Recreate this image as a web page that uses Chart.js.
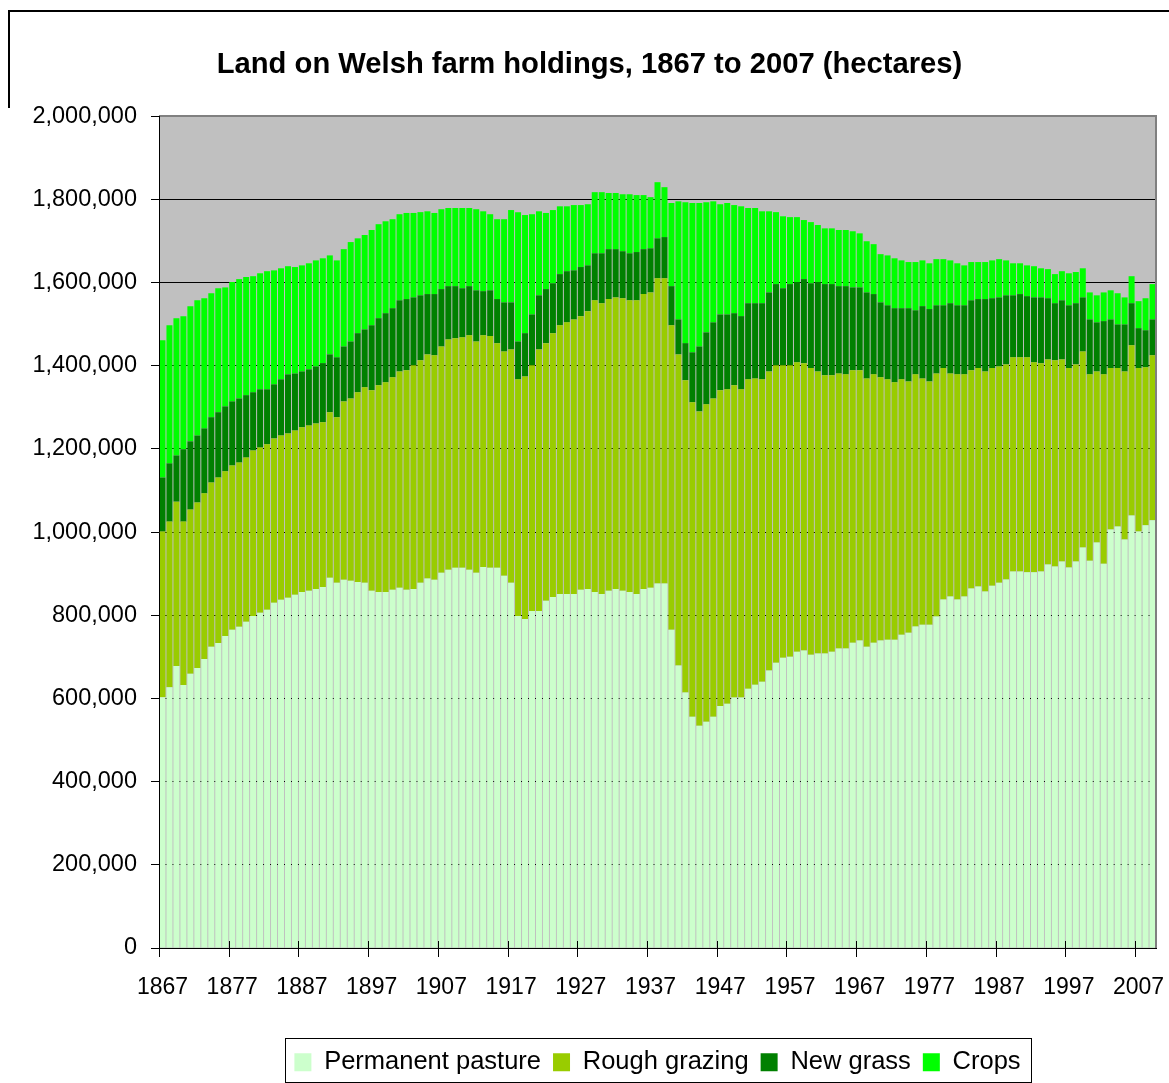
<!DOCTYPE html>
<html>
<head>
<meta charset="utf-8">
<title>Land on Welsh farm holdings, 1867 to 2007</title>
<script src="https://cdn.jsdelivr.net/npm/chart.js"></script>
<style>
  body { margin: 0; background: #fff; }
  #wrap { width: 1169px; height: 1083px; }
</style>
</head>
<body>
<div id="wrap"><canvas id="myChart" width="1169" height="1083"></canvas></div>
<script>
const years = [
    1867, 1868, 1869, 1870, 1871, 1872, 1873, 1874, 1875, 1876,
    1877, 1878, 1879, 1880, 1881, 1882, 1883, 1884, 1885, 1886,
    1887, 1888, 1889, 1890, 1891, 1892, 1893, 1894, 1895, 1896,
    1897, 1898, 1899, 1900, 1901, 1902, 1903, 1904, 1905, 1906,
    1907, 1908, 1909, 1910, 1911, 1912, 1913, 1914, 1915, 1916,
    1917, 1918, 1919, 1920, 1921, 1922, 1923, 1924, 1925, 1926,
    1927, 1928, 1929, 1930, 1931, 1932, 1933, 1934, 1935, 1936,
    1937, 1938, 1939, 1940, 1941, 1942, 1943, 1944, 1945, 1946,
    1947, 1948, 1949, 1950, 1951, 1952, 1953, 1954, 1955, 1956,
    1957, 1958, 1959, 1960, 1961, 1962, 1963, 1964, 1965, 1966,
    1967, 1968, 1969, 1970, 1971, 1972, 1973, 1974, 1975, 1976,
    1977, 1978, 1979, 1980, 1981, 1982, 1983, 1984, 1985, 1986,
    1987, 1988, 1989, 1990, 1991, 1992, 1993, 1994, 1995, 1996,
    1997, 1998, 1999, 2000, 2001, 2002, 2003, 2004, 2005, 2006,
    2007, 2008, 2009
];

// years that get a label and a tick mark
const tickYears = [1867, 1877, 1887, 1897, 1907, 1917, 1927, 1937, 1947, 1957, 1967, 1977, 1987, 1997, 2007];

const yMax = 2000000;
const yStep = 200000;

// hectares
const pasture = [
    603000, 627000, 678000, 632000, 659000, 673000, 695000, 724000, 733000, 750000,
    765000, 772000, 784000, 798000, 806000, 813000, 830000, 837000, 842000, 849000,
    856000, 859000, 863000, 868000, 890000, 878000, 885000, 883000, 880000, 878000,
    859000, 856000, 856000, 861000, 866000, 861000, 863000, 878000, 888000, 885000,
    902000, 909000, 914000, 914000, 909000, 902000, 916000, 914000, 914000, 895000,
    878000, 798000, 791000, 810000, 810000, 835000, 844000, 851000, 851000, 851000,
    861000, 863000, 856000, 851000, 859000, 863000, 859000, 856000, 851000, 863000,
    866000, 876000, 876000, 765000, 679000, 614000, 556000, 534000, 544000, 556000,
    582000, 587000, 602000, 602000, 623000, 633000, 640000, 667000, 686000, 698000,
    700000, 712000, 715000, 705000, 708000, 708000, 712000, 720000, 720000, 734000,
    739000, 724000, 734000, 739000, 741000, 741000, 753000, 758000, 773000, 777000,
    777000, 797000, 838000, 845000, 838000, 845000, 864000, 869000, 857000, 871000,
    878000, 886000, 905000, 905000, 903000, 903000, 905000, 922000, 917000, 929000,
    915000, 929000, 963000, 931000, 975000, 924000, 1006000, 1013000, 982000, 1040000,
    1001000, 1016000, 1028000
];

const rough = [
    398000, 398000, 395000, 393000, 395000, 398000, 398000, 395000, 398000, 396000,
    395000, 395000, 395000, 398000, 397000, 398000, 395000, 395000, 395000, 395000,
    396000, 397000, 398000, 396000, 398000, 398000, 429000, 438000, 456000, 470000,
    482000, 497000, 504000, 511000, 520000, 528000, 538000, 535000, 539000, 540000,
    544000, 554000, 552000, 554000, 564000, 556000, 557000, 557000, 540000, 539000,
    561000, 569000, 583000, 591000, 629000, 619000, 634000, 646000, 653000, 660000,
    658000, 668000, 701000, 699000, 701000, 701000, 703000, 701000, 706000, 709000,
    710000, 734000, 734000, 732000, 748000, 751000, 756000, 756000, 763000, 765000,
    759000, 756000, 751000, 741000, 744000, 736000, 727000, 719000, 715000, 703000,
    701000, 696000, 691000, 689000, 678000, 669000, 665000, 661000, 659000, 655000,
    650000, 645000, 645000, 633000, 626000, 619000, 614000, 604000, 606000, 592000,
    585000, 584000, 556000, 536000, 541000, 534000, 525000, 525000, 529000, 523000,
    520000, 517000, 515000, 515000, 517000, 505000, 501000, 493000, 496000, 486000,
    479000, 474000, 471000, 448000, 411000, 455000, 388000, 381000, 404000, 409000,
    393000, 380000, 397000
];

const newGrass = [
    130000, 140000, 111000, 174000, 164000, 161000, 156000, 157000, 157000, 156000,
    154000, 154000, 150000, 140000, 140000, 132000, 130000, 135000, 142000, 137000,
    134000, 135000, 137000, 142000, 139000, 144000, 132000, 137000, 142000, 139000,
    156000, 161000, 166000, 166000, 171000, 171000, 163000, 156000, 145000, 147000,
    138000, 128000, 125000, 118000, 118000, 123000, 106000, 110000, 106000, 118000,
    113000, 91000, 104000, 122000, 130000, 130000, 120000, 123000, 123000, 118000,
    118000, 110000, 113000, 120000, 120000, 116000, 113000, 113000, 116000, 108000,
    106000, 96000, 99000, 94000, 84000, 89000, 120000, 156000, 173000, 183000,
    182000, 180000, 173000, 176000, 183000, 181000, 183000, 190000, 195000, 185000,
    195000, 193000, 202000, 204000, 215000, 219000, 219000, 210000, 212000, 199000,
    199000, 207000, 193000, 180000, 178000, 178000, 171000, 176000, 154000, 174000,
    174000, 164000, 151000, 169000, 166000, 166000, 168000, 166000, 174000, 168000,
    166000, 166000, 149000, 152000, 147000, 156000, 158000, 147000, 137000, 142000,
    151000, 147000, 130000, 132000, 118000, 128000, 117000, 105000, 113000, 101000,
    96000, 89000, 86000
];

const crops = [
    330000, 332000, 330000, 320000, 325000, 325000, 313000, 298000, 298000, 286000,
    287000, 287000, 284000, 279000, 279000, 284000, 274000, 267000, 260000, 256000,
    255000, 255000, 255000, 252000, 238000, 233000, 234000, 239000, 228000, 227000,
    229000, 226000, 221000, 214000, 207000, 207000, 203000, 200000, 199000, 195000,
    192000, 188000, 188000, 193000, 188000, 195000, 192000, 183000, 192000, 200000,
    222000, 311000, 284000, 241000, 202000, 183000, 176000, 163000, 156000, 157000,
    149000, 147000, 147000, 147000, 135000, 135000, 137000, 142000, 137000, 130000,
    123000, 135000, 120000, 200000, 284000, 339000, 359000, 345000, 313000, 291000,
    265000, 268000, 260000, 264000, 229000, 229000, 221000, 195000, 173000, 173000,
    161000, 156000, 142000, 147000, 137000, 134000, 134000, 135000, 135000, 135000,
    130000, 123000, 120000, 116000, 120000, 120000, 115000, 111000, 116000, 110000,
    110000, 111000, 111000, 103000, 101000, 96000, 92000, 89000, 89000, 91000,
    92000, 84000, 77000, 74000, 74000, 75000, 70000, 70000, 70000, 70000,
    77000, 75000, 70000, 65000, 65000, 69000, 70000, 75000, 65000, 65000,
    65000, 77000, 85000
];

const fontFamily = "'Liberation Sans', Arial, sans-serif";
Chart.defaults.font.family = fontFamily;
Chart.defaults.color = '#000';

// grey plot area, grey top/right frame, decade ticks, legend box, outer frame
const decorations = {
    id: 'decorations',
    beforeDraw(chart) {
        const ctx = chart.ctx;
        const a = chart.chartArea;
        ctx.save();
        ctx.fillStyle = '#C0C0C0';
        ctx.fillRect(a.left, a.top, a.right - a.left, a.bottom - a.top);
        ctx.restore();
    },
    afterDatasetsDraw(chart) {
        const ctx = chart.ctx;
        const a = chart.chartArea;
        const xScale = chart.scales.x;
        ctx.save();
        ctx.strokeStyle = '#808080';
        ctx.lineWidth = 2;
        ctx.beginPath();
        ctx.moveTo(a.left, a.top);
        ctx.lineTo(a.right, a.top);
        ctx.lineTo(a.right, a.bottom);
        ctx.stroke();

        // decade ticks cross the axis line
        ctx.strokeStyle = '#000';
        ctx.lineWidth = 1;
        for (let yr of tickYears) {
            const i = years.indexOf(yr);
            const x = Math.round(xScale.getPixelForValue(i - 0.5)) + 0.5;
            ctx.beginPath();
            ctx.moveTo(x, a.bottom - 7);
            ctx.lineTo(x, a.bottom + 9);
            ctx.stroke();
        }
        ctx.restore();
    },
    afterDraw(chart) {
        const ctx = chart.ctx;
        ctx.save();
        ctx.strokeStyle = '#000';

        const hb = chart.legend.legendHitBoxes;
        if (hb && hb.length) {
            const last = hb[hb.length - 1];
            const left = Math.round(hb[0].left - 9) + 0.5;
            const right = Math.round(last.left + last.width + 10) + 0.5;
            const cy = hb[0].top + hb[0].height / 2;
            const top = Math.round(cy - 24) + 0.5;
            ctx.lineWidth = 1;
            ctx.strokeRect(left, top, right - left, 44);
        }

        ctx.lineWidth = 2;
        ctx.beginPath();
        ctx.moveTo(9, 108);
        ctx.lineTo(9, 11);
        ctx.lineTo(1169, 11);
        ctx.stroke();
        ctx.restore();
    }
};

const ctx = document.getElementById('myChart');

new Chart(ctx, {
    type: 'bar',
    data: {
        labels: years,
        datasets: [
            { label: 'Permanent pasture', data: pasture, backgroundColor: '#CCFFCC' },
            { label: 'Rough grazing', data: rough, backgroundColor: '#99CC00' },
            { label: 'New grass', data: newGrass, backgroundColor: '#008000' },
            { label: 'Crops', data: crops, backgroundColor: '#00FF00' }
        ]
    },
    options: {
        responsive: false,
        animation: false,
        layout: { padding: { left: 23, right: 13, top: 0, bottom: -2 } },
        datasets: {
            bar: { barPercentage: 0.86, categoryPercentage: 1.0, borderWidth: 0 }
        },
        plugins: {
            title: {
                display: true,
                text: 'Land on Welsh farm holdings, 1867 to 2007 (hectares)',
                color: '#000',
                font: { size: 29.2, weight: 'bold', family: fontFamily },
                padding: { top: 47, bottom: 34 }
            },
            legend: {
                position: 'bottom',
                fullSize: false,
                labels: {
                    color: '#000',
                    font: { size: 25.5, family: fontFamily },
                    boxWidth: 17,
                    boxHeight: 18,
                    padding: 12
                }
            },
            tooltip: { enabled: false }
        },
        scales: {
            x: {
                stacked: true,
                offset: true,
                grid: {
                    offset: true,
                    drawOnChartArea: false,
                    drawTicks: true,
                    tickLength: 9,
                    color: 'rgba(0,0,0,0)'
                },
                border: { display: true, color: '#000', width: 1, z: 1 },
                ticks: {
                    autoSkip: false,
                    maxRotation: 0,
                    minRotation: 0,
                    padding: 17,
                    color: '#000',
                    font: { size: 23, family: fontFamily },
                    callback: function(value, index) {
                        const yr = years[index];
                        return tickYears.includes(yr) ? String(yr) : null;
                    }
                },
                afterFit: (scale) => {
                    scale.height = 89.5;
                    scale.paddingLeft = 0;
                    scale.paddingRight = 0;
                }
            },
            y: {
                stacked: true,
                min: 0,
                max: yMax,
                grid: { color: '#000', lineWidth: 1, tickLength: 8 },
                border: { display: true, color: '#000', width: 1, z: 1 },
                ticks: {
                    stepSize: yStep,
                    padding: 14,
                    color: '#000',
                    font: { size: 23.5, family: fontFamily },
                    callback: (v) => v.toLocaleString('en-US')
                },
                afterFit: (scale) => { scale.width = 136; }
            }
        }
    },
    plugins: [decorations]
});
</script>
</body>
</html>
